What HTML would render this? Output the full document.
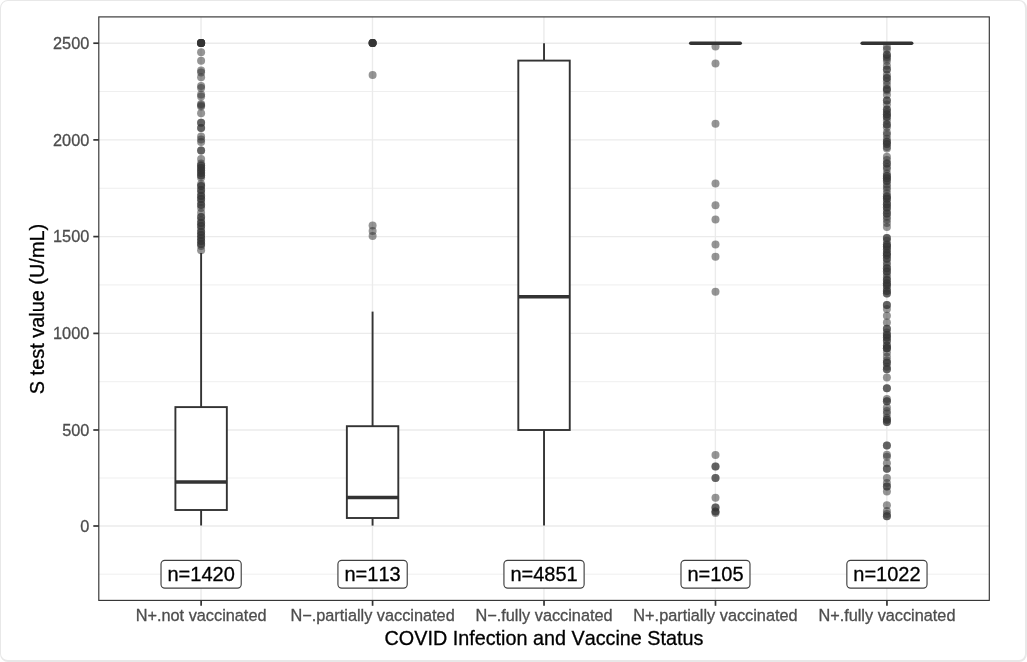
<!DOCTYPE html>
<html lang="en"><head><meta charset="utf-8"><title>S test value by COVID infection and vaccine status</title>
<style>
html,body{margin:0;padding:0;background:#fff;}
body{width:1027px;height:662px;overflow:hidden;position:relative;font-family:"Liberation Sans",sans-serif;}
.frame{position:absolute;left:0;top:0;width:1027px;height:662px;border-style:solid;border-color:#e8e8e8;border-width:1px 2px 2px 1px;border-radius:8px;box-sizing:border-box;}
svg{position:absolute;left:0;top:0;will-change:transform;}
text{font-family:"Liberation Sans",sans-serif;font-kerning:none;}
.at{font-size:16.3px;fill:#4d4d4d;stroke:#4d4d4d;stroke-width:0.3px;}
.ttl{font-size:19.92px;fill:#000;stroke:#000;stroke-width:0.3px;}
.lab{font-size:20px;fill:#000;stroke:#000;stroke-width:0.3px;}
</style></head><body>
<div class="frame"></div>
<svg width="1027" height="662" viewBox="0 0 1027 662">
<g stroke="#ebebeb" stroke-width="0.8" fill="none">
<line x1="98.8" x2="989.2" y1="574.20" y2="574.20"/>
<line x1="98.8" x2="989.2" y1="478.00" y2="478.00"/>
<line x1="98.8" x2="989.2" y1="381.70" y2="381.70"/>
<line x1="98.8" x2="989.2" y1="284.90" y2="284.90"/>
<line x1="98.8" x2="989.2" y1="188.25" y2="188.25"/>
<line x1="98.8" x2="989.2" y1="91.50" y2="91.50"/>
</g>
<g stroke="#ebebeb" stroke-width="1.4" fill="none">
<line x1="98.8" x2="989.2" y1="526.00" y2="526.00"/>
<line x1="98.8" x2="989.2" y1="430.00" y2="430.00"/>
<line x1="98.8" x2="989.2" y1="333.40" y2="333.40"/>
<line x1="98.8" x2="989.2" y1="236.60" y2="236.60"/>
<line x1="98.8" x2="989.2" y1="139.90" y2="139.90"/>
<line x1="98.8" x2="989.2" y1="43.20" y2="43.20"/>
<line x1="201.02" x2="201.02" y1="16.9" y2="600.4"/>
<line x1="372.48" x2="372.48" y1="16.9" y2="600.4"/>
<line x1="543.93" x2="543.93" y1="16.9" y2="600.4"/>
<line x1="715.38" x2="715.38" y1="16.9" y2="600.4"/>
<line x1="886.84" x2="886.84" y1="16.9" y2="600.4"/>
</g>
<g fill="#333333" fill-opacity="0.52" stroke="none">
<circle cx="201.1" cy="43.1" r="4.0"/><circle cx="201.1" cy="43.1" r="4.0"/><circle cx="201.1" cy="43.1" r="4.0"/><circle cx="201.1" cy="43.1" r="4.0"/><circle cx="201.1" cy="43.1" r="4.0"/><circle cx="201.1" cy="43.1" r="4.0"/><circle cx="201.1" cy="43.1" r="4.0"/><circle cx="201.1" cy="43.1" r="4.0"/><circle cx="201.1" cy="52.3" r="4.0"/><circle cx="201.1" cy="60.8" r="4.0"/><circle cx="201.1" cy="70.5" r="4.0"/><circle cx="201.1" cy="72.5" r="4.0"/><circle cx="201.1" cy="77.3" r="4.0"/><circle cx="201.1" cy="86.0" r="4.0"/><circle cx="201.1" cy="88.0" r="4.0"/><circle cx="201.1" cy="94.5" r="4.0"/><circle cx="201.1" cy="96.5" r="4.0"/><circle cx="201.1" cy="104.0" r="4.0"/><circle cx="201.1" cy="105.2" r="4.0"/><circle cx="201.1" cy="106.4" r="4.0"/><circle cx="201.1" cy="113.3" r="4.0"/><circle cx="201.1" cy="122.7" r="4.0"/><circle cx="201.1" cy="122.7" r="4.0"/><circle cx="201.1" cy="128.1" r="4.0"/><circle cx="201.1" cy="128.1" r="4.0"/><circle cx="201.1" cy="136.6" r="4.0"/><circle cx="201.1" cy="139.4" r="4.0"/><circle cx="201.1" cy="142.0" r="4.0"/><circle cx="201.1" cy="150.5" r="4.0"/><circle cx="201.1" cy="150.5" r="4.0"/><circle cx="201.1" cy="159.0" r="4.0"/><circle cx="201.1" cy="163.5" r="4.0"/><circle cx="201.1" cy="165.5" r="4.0"/><circle cx="201.1" cy="165.5" r="4.0"/><circle cx="201.1" cy="168.0" r="4.0"/><circle cx="201.1" cy="168.0" r="4.0"/><circle cx="201.1" cy="170.5" r="4.0"/><circle cx="201.1" cy="170.5" r="4.0"/><circle cx="201.1" cy="173.0" r="4.0"/><circle cx="201.1" cy="173.0" r="4.0"/><circle cx="201.1" cy="175.5" r="4.0"/><circle cx="201.1" cy="175.5" r="4.0"/><circle cx="201.1" cy="177.7" r="4.0"/><circle cx="201.1" cy="184.0" r="4.0"/><circle cx="201.1" cy="186.0" r="4.0"/><circle cx="201.1" cy="186.0" r="4.0"/><circle cx="201.1" cy="190.0" r="4.0"/><circle cx="201.1" cy="190.0" r="4.0"/><circle cx="201.1" cy="193.0" r="4.0"/><circle cx="201.1" cy="196.0" r="4.0"/><circle cx="201.1" cy="196.0" r="4.0"/><circle cx="201.1" cy="199.0" r="4.0"/><circle cx="201.1" cy="199.0" r="4.0"/><circle cx="201.1" cy="202.0" r="4.0"/><circle cx="201.1" cy="205.0" r="4.0"/><circle cx="201.1" cy="205.0" r="4.0"/><circle cx="201.1" cy="208.0" r="4.0"/><circle cx="201.1" cy="212.8" r="4.0"/><circle cx="201.1" cy="217.0" r="4.0"/><circle cx="201.1" cy="217.0" r="4.0"/><circle cx="201.1" cy="220.0" r="4.0"/><circle cx="201.1" cy="223.0" r="4.0"/><circle cx="201.1" cy="223.0" r="4.0"/><circle cx="201.1" cy="226.0" r="4.0"/><circle cx="201.1" cy="226.0" r="4.0"/><circle cx="201.1" cy="229.0" r="4.0"/><circle cx="201.1" cy="232.0" r="4.0"/><circle cx="201.1" cy="232.0" r="4.0"/><circle cx="201.1" cy="235.0" r="4.0"/><circle cx="201.1" cy="235.0" r="4.0"/><circle cx="201.1" cy="238.0" r="4.0"/><circle cx="201.1" cy="238.0" r="4.0"/><circle cx="201.1" cy="241.0" r="4.0"/><circle cx="201.1" cy="241.0" r="4.0"/><circle cx="201.1" cy="244.0" r="4.0"/><circle cx="201.1" cy="244.0" r="4.0"/><circle cx="201.1" cy="246.0" r="4.0"/><circle cx="201.1" cy="250.3" r="4.0"/>
<circle cx="372.6" cy="43.1" r="4.0"/><circle cx="372.6" cy="43.1" r="4.0"/><circle cx="372.6" cy="43.1" r="4.0"/><circle cx="372.6" cy="43.1" r="4.0"/><circle cx="372.6" cy="43.1" r="4.0"/><circle cx="372.6" cy="43.1" r="4.0"/><circle cx="372.6" cy="75.0" r="4.0"/><circle cx="372.6" cy="225.4" r="4.0"/><circle cx="372.6" cy="231.0" r="4.0"/><circle cx="372.6" cy="236.1" r="4.0"/>
<circle cx="715.5" cy="46.4" r="4.0"/><circle cx="715.5" cy="63.4" r="4.0"/><circle cx="715.5" cy="123.8" r="4.0"/><circle cx="715.5" cy="183.6" r="4.0"/><circle cx="715.5" cy="205.2" r="4.0"/><circle cx="715.5" cy="219.6" r="4.0"/><circle cx="715.5" cy="244.5" r="4.0"/><circle cx="715.5" cy="256.7" r="4.0"/><circle cx="715.5" cy="291.7" r="4.0"/><circle cx="715.5" cy="454.9" r="4.0"/><circle cx="715.5" cy="466.6" r="4.0"/><circle cx="715.5" cy="466.6" r="4.0"/><circle cx="715.5" cy="478.0" r="4.0"/><circle cx="715.5" cy="478.0" r="4.0"/><circle cx="715.5" cy="497.8" r="4.0"/><circle cx="715.5" cy="507.5" r="4.0"/><circle cx="715.5" cy="507.5" r="4.0"/><circle cx="715.5" cy="511.5" r="4.0"/><circle cx="715.5" cy="511.5" r="4.0"/><circle cx="715.5" cy="513.0" r="4.0"/>
<circle cx="886.9" cy="46.9" r="4.0"/><circle cx="886.9" cy="49.6" r="4.0"/><circle cx="886.9" cy="54.7" r="4.0"/><circle cx="886.9" cy="54.7" r="4.0"/><circle cx="886.9" cy="57.1" r="4.0"/><circle cx="886.9" cy="58.6" r="4.0"/><circle cx="886.9" cy="60.9" r="4.0"/><circle cx="886.9" cy="65.7" r="4.0"/><circle cx="886.9" cy="69.4" r="4.0"/><circle cx="886.9" cy="69.4" r="4.0"/><circle cx="886.9" cy="74.8" r="4.0"/><circle cx="886.9" cy="78.0" r="4.0"/><circle cx="886.9" cy="78.0" r="4.0"/><circle cx="886.9" cy="81.2" r="4.0"/><circle cx="886.9" cy="85.1" r="4.0"/><circle cx="886.9" cy="88.9" r="4.0"/><circle cx="886.9" cy="88.9" r="4.0"/><circle cx="886.9" cy="90.4" r="4.0"/><circle cx="886.9" cy="94.7" r="4.0"/><circle cx="886.9" cy="100.6" r="4.0"/><circle cx="886.9" cy="100.6" r="4.0"/><circle cx="886.9" cy="104.6" r="4.0"/><circle cx="886.9" cy="109.4" r="4.0"/><circle cx="886.9" cy="109.4" r="4.0"/><circle cx="886.9" cy="112.1" r="4.0"/><circle cx="886.9" cy="114.3" r="4.0"/><circle cx="886.9" cy="114.3" r="4.0"/><circle cx="886.9" cy="116.9" r="4.0"/><circle cx="886.9" cy="116.9" r="4.0"/><circle cx="886.9" cy="120.6" r="4.0"/><circle cx="886.9" cy="124.4" r="4.0"/><circle cx="886.9" cy="124.4" r="4.0"/><circle cx="886.9" cy="127.2" r="4.0"/><circle cx="886.9" cy="132.5" r="4.0"/><circle cx="886.9" cy="134.7" r="4.0"/><circle cx="886.9" cy="138.7" r="4.0"/><circle cx="886.9" cy="141.8" r="4.0"/><circle cx="886.9" cy="141.8" r="4.0"/><circle cx="886.9" cy="144.1" r="4.0"/><circle cx="886.9" cy="144.1" r="4.0"/><circle cx="886.9" cy="147.0" r="4.0"/><circle cx="886.9" cy="148.4" r="4.0"/><circle cx="886.9" cy="156.7" r="4.0"/><circle cx="886.9" cy="160.0" r="4.0"/><circle cx="886.9" cy="163.4" r="4.0"/><circle cx="886.9" cy="163.4" r="4.0"/><circle cx="886.9" cy="167.0" r="4.0"/><circle cx="886.9" cy="168.9" r="4.0"/><circle cx="886.9" cy="173.4" r="4.0"/><circle cx="886.9" cy="176.0" r="4.0"/><circle cx="886.9" cy="176.0" r="4.0"/><circle cx="886.9" cy="178.3" r="4.0"/><circle cx="886.9" cy="178.3" r="4.0"/><circle cx="886.9" cy="181.1" r="4.0"/><circle cx="886.9" cy="181.1" r="4.0"/><circle cx="886.9" cy="184.5" r="4.0"/><circle cx="886.9" cy="187.0" r="4.0"/><circle cx="886.9" cy="189.4" r="4.0"/><circle cx="886.9" cy="193.2" r="4.0"/><circle cx="886.9" cy="196.5" r="4.0"/><circle cx="886.9" cy="196.5" r="4.0"/><circle cx="886.9" cy="198.7" r="4.0"/><circle cx="886.9" cy="198.7" r="4.0"/><circle cx="886.9" cy="201.8" r="4.0"/><circle cx="886.9" cy="204.3" r="4.0"/><circle cx="886.9" cy="204.3" r="4.0"/><circle cx="886.9" cy="207.5" r="4.0"/><circle cx="886.9" cy="207.5" r="4.0"/><circle cx="886.9" cy="210.4" r="4.0"/><circle cx="886.9" cy="213.5" r="4.0"/><circle cx="886.9" cy="213.5" r="4.0"/><circle cx="886.9" cy="216.8" r="4.0"/><circle cx="886.9" cy="219.4" r="4.0"/><circle cx="886.9" cy="223.1" r="4.0"/><circle cx="886.9" cy="227.1" r="4.0"/><circle cx="886.9" cy="237.9" r="4.0"/><circle cx="886.9" cy="237.9" r="4.0"/><circle cx="886.9" cy="240.8" r="4.0"/><circle cx="886.9" cy="244.6" r="4.0"/><circle cx="886.9" cy="244.6" r="4.0"/><circle cx="886.9" cy="246.5" r="4.0"/><circle cx="886.9" cy="246.5" r="4.0"/><circle cx="886.9" cy="249.6" r="4.0"/><circle cx="886.9" cy="249.6" r="4.0"/><circle cx="886.9" cy="253.1" r="4.0"/><circle cx="886.9" cy="253.1" r="4.0"/><circle cx="886.9" cy="255.3" r="4.0"/><circle cx="886.9" cy="255.3" r="4.0"/><circle cx="886.9" cy="258.8" r="4.0"/><circle cx="886.9" cy="258.8" r="4.0"/><circle cx="886.9" cy="262.6" r="4.0"/><circle cx="886.9" cy="265.0" r="4.0"/><circle cx="886.9" cy="268.2" r="4.0"/><circle cx="886.9" cy="268.2" r="4.0"/><circle cx="886.9" cy="271.6" r="4.0"/><circle cx="886.9" cy="271.6" r="4.0"/><circle cx="886.9" cy="274.4" r="4.0"/><circle cx="886.9" cy="277.4" r="4.0"/><circle cx="886.9" cy="279.9" r="4.0"/><circle cx="886.9" cy="279.9" r="4.0"/><circle cx="886.9" cy="283.2" r="4.0"/><circle cx="886.9" cy="283.2" r="4.0"/><circle cx="886.9" cy="285.4" r="4.0"/><circle cx="886.9" cy="285.4" r="4.0"/><circle cx="886.9" cy="288.5" r="4.0"/><circle cx="886.9" cy="290.9" r="4.0"/><circle cx="886.9" cy="290.9" r="4.0"/><circle cx="886.9" cy="293.4" r="4.0"/><circle cx="886.9" cy="293.4" r="4.0"/><circle cx="886.9" cy="305.1" r="4.0"/><circle cx="886.9" cy="305.1" r="4.0"/><circle cx="886.9" cy="308.9" r="4.0"/><circle cx="886.9" cy="315.7" r="4.0"/><circle cx="886.9" cy="322.6" r="4.0"/><circle cx="886.9" cy="328.8" r="4.0"/><circle cx="886.9" cy="328.8" r="4.0"/><circle cx="886.9" cy="332.5" r="4.0"/><circle cx="886.9" cy="335.0" r="4.0"/><circle cx="886.9" cy="335.0" r="4.0"/><circle cx="886.9" cy="337.4" r="4.0"/><circle cx="886.9" cy="337.4" r="4.0"/><circle cx="886.9" cy="340.8" r="4.0"/><circle cx="886.9" cy="340.8" r="4.0"/><circle cx="886.9" cy="345.5" r="4.0"/><circle cx="886.9" cy="345.5" r="4.0"/><circle cx="886.9" cy="348.2" r="4.0"/><circle cx="886.9" cy="348.2" r="4.0"/><circle cx="886.9" cy="348.2" r="4.0"/><circle cx="886.9" cy="352.6" r="4.0"/><circle cx="886.9" cy="356.8" r="4.0"/><circle cx="886.9" cy="360.5" r="4.0"/><circle cx="886.9" cy="362.7" r="4.0"/><circle cx="886.9" cy="362.7" r="4.0"/><circle cx="886.9" cy="366.7" r="4.0"/><circle cx="886.9" cy="369.2" r="4.0"/><circle cx="886.9" cy="369.2" r="4.0"/><circle cx="886.9" cy="377.4" r="4.0"/><circle cx="886.9" cy="388.3" r="4.0"/><circle cx="886.9" cy="388.3" r="4.0"/><circle cx="886.9" cy="398.9" r="4.0"/><circle cx="886.9" cy="401.2" r="4.0"/><circle cx="886.9" cy="401.2" r="4.0"/><circle cx="886.9" cy="407.6" r="4.0"/><circle cx="886.9" cy="410.9" r="4.0"/><circle cx="886.9" cy="413.5" r="4.0"/><circle cx="886.9" cy="417.7" r="4.0"/><circle cx="886.9" cy="419.8" r="4.0"/><circle cx="886.9" cy="419.8" r="4.0"/><circle cx="886.9" cy="422.1" r="4.0"/><circle cx="886.9" cy="422.1" r="4.0"/><circle cx="886.9" cy="445.6" r="4.0"/><circle cx="886.9" cy="445.6" r="4.0"/><circle cx="886.9" cy="454.7" r="4.0"/><circle cx="886.9" cy="456.7" r="4.0"/><circle cx="886.9" cy="463.2" r="4.0"/><circle cx="886.9" cy="468.8" r="4.0"/><circle cx="886.9" cy="468.8" r="4.0"/><circle cx="886.9" cy="478.1" r="4.0"/><circle cx="886.9" cy="482.9" r="4.0"/><circle cx="886.9" cy="486.6" r="4.0"/><circle cx="886.9" cy="486.6" r="4.0"/><circle cx="886.9" cy="491.4" r="4.0"/><circle cx="886.9" cy="505.3" r="4.0"/><circle cx="886.9" cy="511.1" r="4.0"/><circle cx="886.9" cy="514.0" r="4.0"/><circle cx="886.9" cy="516.2" r="4.0"/><circle cx="886.9" cy="516.2" r="4.0"/>
</g>
<g stroke="#333333" stroke-width="1.9" fill="none">
<line x1="201.12" x2="201.12" y1="253.0" y2="407.1"/>
<line x1="201.12" x2="201.12" y1="510.0" y2="525.5"/>
<rect x="175.40" y="407.1" width="51.44" height="102.9" fill="#fff"/>
<line x1="175.40" x2="226.84" y1="482.0" y2="482.0" stroke-width="3.6"/>
<line x1="372.58" x2="372.58" y1="311.6" y2="426.2"/>
<line x1="372.58" x2="372.58" y1="518.0" y2="525.6"/>
<rect x="346.86" y="426.2" width="51.44" height="91.8" fill="#fff"/>
<line x1="346.86" x2="398.29" y1="497.5" y2="497.5" stroke-width="3.6"/>
<line x1="544.03" x2="544.03" y1="43.2" y2="60.6"/>
<line x1="544.03" x2="544.03" y1="430.0" y2="525.4"/>
<rect x="518.31" y="60.6" width="51.44" height="369.4" fill="#fff"/>
<line x1="518.31" x2="569.75" y1="296.7" y2="296.7" stroke-width="3.6"/>
<line x1="690.77" x2="740.20" y1="43.2" y2="43.2" stroke-width="3.6" stroke-linecap="round"/>
<line x1="862.22" x2="911.66" y1="43.2" y2="43.2" stroke-width="3.6" stroke-linecap="round"/>
</g>
<rect x="161.02" y="560.30" width="80.2" height="27.8" rx="3.8" ry="3.8" fill="#fff" stroke="#404040" stroke-width="1.15"/>
<text class="lab" x="201.12" y="581.3" text-anchor="middle">n=1420</text>
<rect x="337.93" y="560.30" width="69.3" height="27.8" rx="3.8" ry="3.8" fill="#fff" stroke="#404040" stroke-width="1.15"/>
<text class="lab" x="372.58" y="581.3" text-anchor="middle">n=113</text>
<rect x="503.93" y="560.30" width="80.2" height="27.8" rx="3.8" ry="3.8" fill="#fff" stroke="#404040" stroke-width="1.15"/>
<text class="lab" x="544.03" y="581.3" text-anchor="middle">n=4851</text>
<rect x="680.99" y="560.30" width="69.0" height="27.8" rx="3.8" ry="3.8" fill="#fff" stroke="#404040" stroke-width="1.15"/>
<text class="lab" x="715.49" y="581.3" text-anchor="middle">n=105</text>
<rect x="846.84" y="560.30" width="80.2" height="27.8" rx="3.8" ry="3.8" fill="#fff" stroke="#404040" stroke-width="1.15"/>
<text class="lab" x="886.94" y="581.3" text-anchor="middle">n=1022</text>
<rect x="98.8" y="16.9" width="890.5" height="583.5" fill="none" stroke="#333333" stroke-width="1.15"/>
<g stroke="#333333" stroke-width="1.7">
<line x1="93.3" x2="98.8" y1="526.00" y2="526.00"/>
<line x1="93.3" x2="98.8" y1="430.00" y2="430.00"/>
<line x1="93.3" x2="98.8" y1="333.40" y2="333.40"/>
<line x1="93.3" x2="98.8" y1="236.60" y2="236.60"/>
<line x1="93.3" x2="98.8" y1="139.90" y2="139.90"/>
<line x1="93.3" x2="98.8" y1="43.20" y2="43.20"/>
<line x1="201.12" x2="201.12" y1="600.4" y2="605.8"/>
<line x1="372.58" x2="372.58" y1="600.4" y2="605.8"/>
<line x1="544.03" x2="544.03" y1="600.4" y2="605.8"/>
<line x1="715.49" x2="715.49" y1="600.4" y2="605.8"/>
<line x1="886.94" x2="886.94" y1="600.4" y2="605.8"/>
</g>
<text class="at" x="89.3" y="531.80" text-anchor="end">0</text>
<text class="at" x="89.3" y="435.80" text-anchor="end">500</text>
<text class="at" x="89.3" y="339.20" text-anchor="end">1000</text>
<text class="at" x="89.3" y="242.40" text-anchor="end">1500</text>
<text class="at" x="89.3" y="145.70" text-anchor="end">2000</text>
<text class="at" x="89.3" y="49.00" text-anchor="end">2500</text>
<text class="at" x="201.12" y="621.1" text-anchor="middle">N+.not vaccinated</text>
<text class="at" x="372.58" y="621.1" text-anchor="middle">N−.partially vaccinated</text>
<text class="at" x="544.03" y="621.1" text-anchor="middle">N−.fully vaccinated</text>
<text class="at" x="715.49" y="621.1" text-anchor="middle">N+.partially vaccinated</text>
<text class="at" x="886.94" y="621.1" text-anchor="middle">N+.fully vaccinated</text>
<text class="ttl" x="544.0" y="644.9" text-anchor="middle" style="font-size:19.8px">COVID Infection and Vaccine Status</text>
<text class="ttl" transform="translate(43.7,309) rotate(-90)" text-anchor="middle">S test value (U/mL)</text>
</svg>
</body></html>
